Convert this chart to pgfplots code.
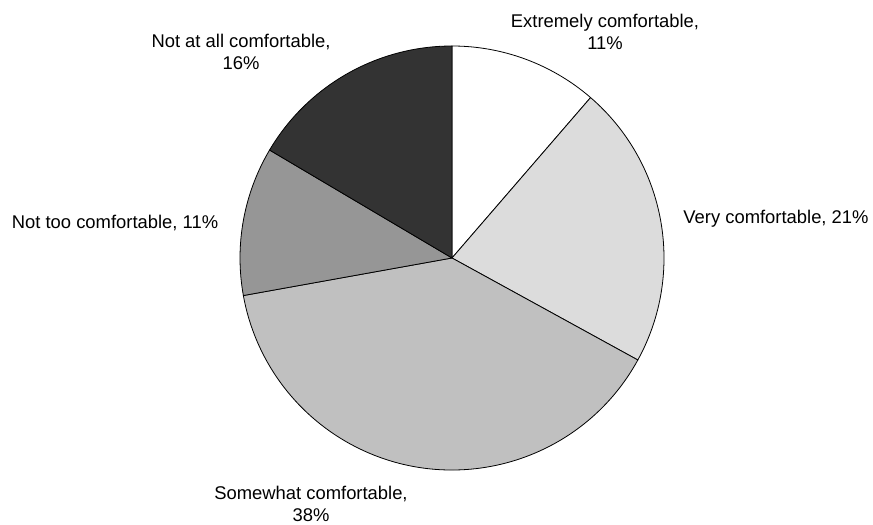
\documentclass[border=0pt]{standalone}
\usepackage{pgfplots}
\usepackage{pgfplotstable}
\pgfplotsset{compat=1.18}
\usepackage{fontspec}
\setmainfont{Liberation Sans}

\definecolor{sliceA}{HTML}{FFFFFF}
\definecolor{sliceB}{HTML}{DCDCDC}
\definecolor{sliceC}{HTML}{C0C0C0}
\definecolor{sliceD}{HTML}{969696}
\definecolor{sliceE}{HTML}{333333}

% share of respondents per comfort level, clockwise from 12 o'clock
\pgfplotstableread{
value color
11 sliceA
21 sliceB
38 sliceC
11 sliceD
16 sliceE
}\piedata

\begin{document}
\begin{tikzpicture}
\begin{axis}[
  width=873bp, height=525bp, scale only axis,
  xmin=0, xmax=873, ymin=0, ymax=525,
  hide axis, clip=false,
]
\path (axis cs:0,0) rectangle (axis cs:873,525);
\pgfmathsetmacro\total{97}
\def\cum{0}
\pgfplotsforeachungrouped \i in {0,...,4}{%
  \pgfplotstablegetelem{\i}{value}\of\piedata
  \let\val\pgfplotsretval
  \pgfplotstablegetelem{\i}{color}\of\piedata
  \let\col\pgfplotsretval
  \pgfmathsetmacro\sa{90-\cum/\total*360}%
  \pgfmathsetmacro\newcum{\cum+\val}%
  \global\let\cum\newcum
  \pgfmathsetmacro\ea{90-\cum/\total*360}%
  \edef\temp{\noexpand\filldraw[fill=\col, draw=black, line width=0.8pt, line join=round]
    (axis cs:452,267) -- ++(\sa:212bp) arc[start angle=\sa, end angle=\ea, radius=212bp] -- cycle;}%
  \temp
}
\begin{scope}[every node/.style={font=\fontsize{18.4bp}{22bp}\selectfont, align=center, inner sep=0pt}]
\node at (axis cs:605,493) {Extremely comfortable,\\11\%};
\node at (axis cs:776,306) {Very comfortable, 21\%};
\node at (axis cs:311,21) {Somewhat comfortable,\\38\%};
\node at (axis cs:115,302) {Not too comfortable, 11\%};
\node at (axis cs:241,473) {Not at all comfortable,\\16\%};
\end{scope}
\end{axis}
\end{tikzpicture}
\end{document}
